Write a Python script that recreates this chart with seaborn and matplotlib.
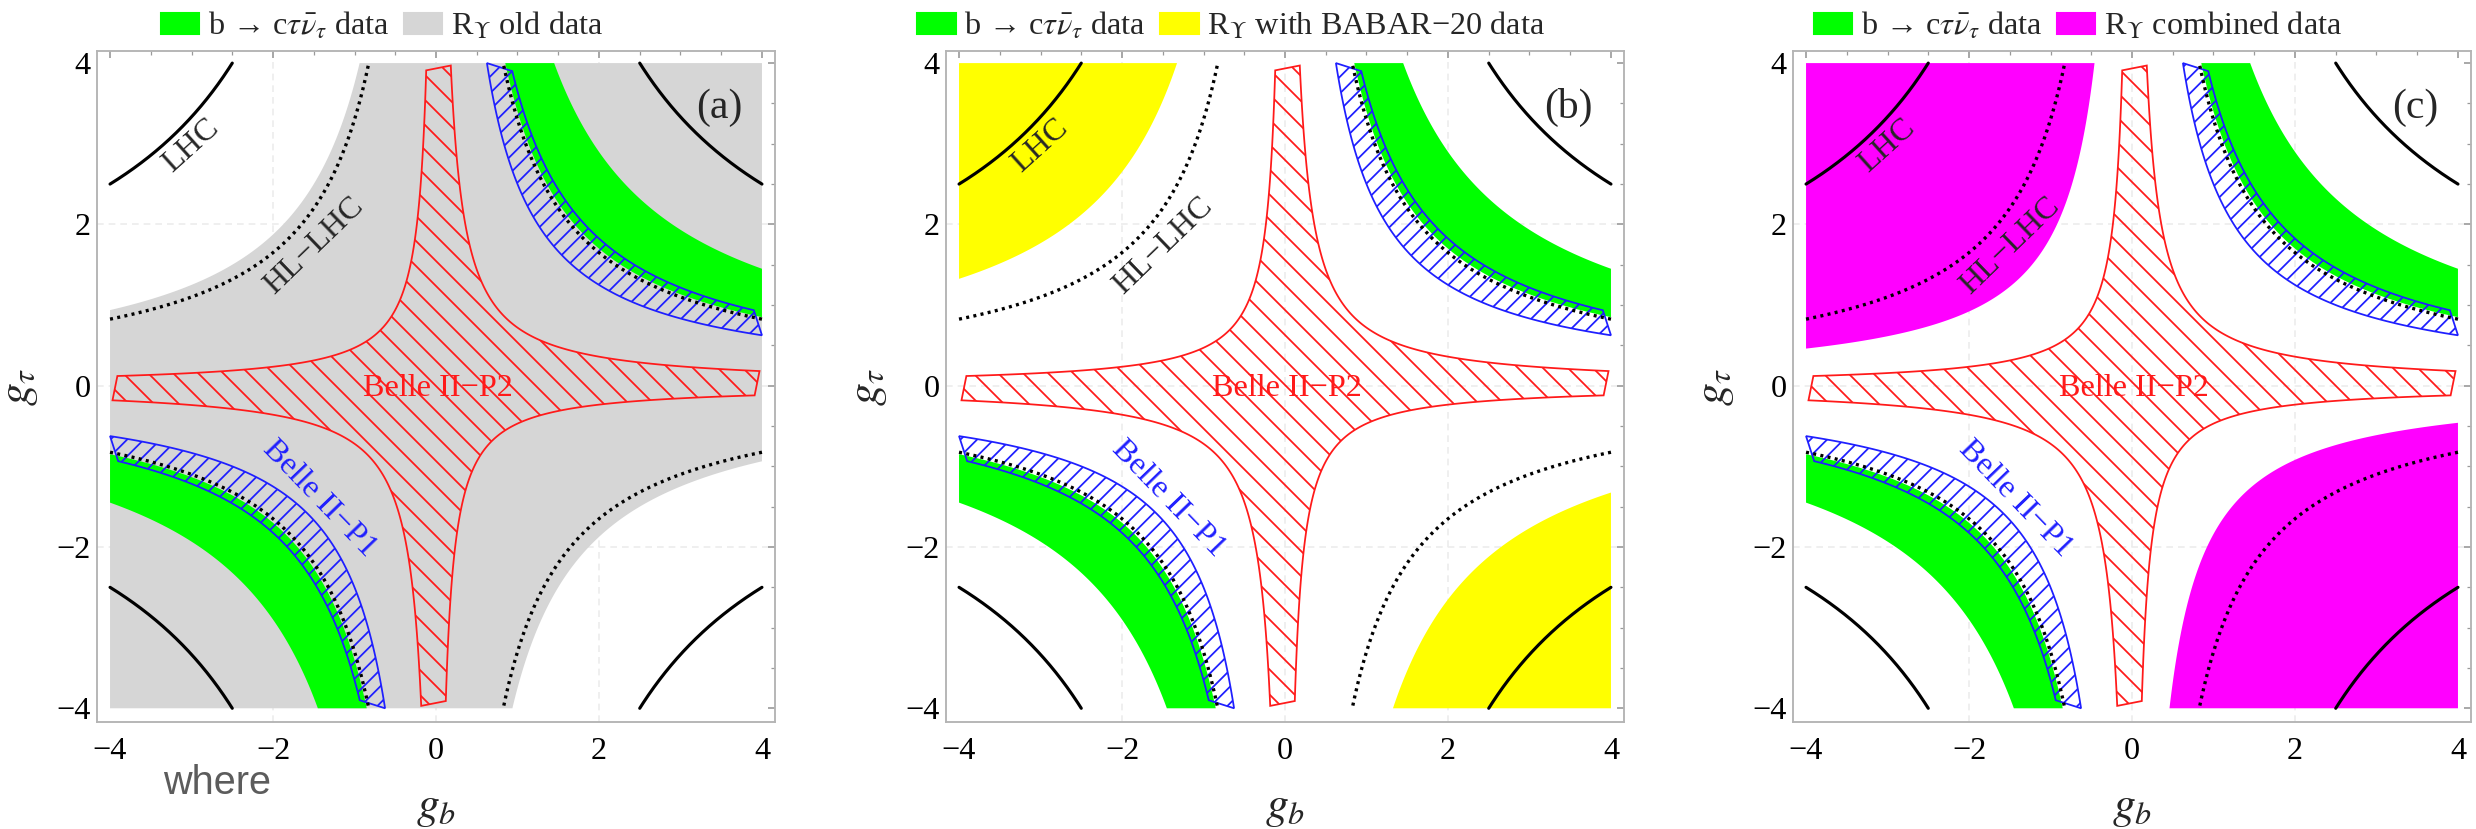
import numpy as np
import matplotlib
matplotlib.use('Agg')
import matplotlib.pyplot as plt
from matplotlib.patches import Patch
from matplotlib.ticker import MultipleLocator
import seaborn as sns

# contour levels of g_b * g_tau
lhc_level = 10.0
hl_lhc_level = 3.3
green_levels = [3.4, 5.8]          # b -> c tau nu data
belle_p1_levels = [2.5, 3.65]
belle_p2_levels = [-0.47, 0.72]
ry_levels = [-3.75, -5.3, -1.84]   # old / BABAR-20 / combined

panel_tags = ['(a)', '(b)', '(c)']
ry_labels = [r'R$_\Upsilon$ old data', r'R$_\Upsilon$ with BABAR−20 data', r'R$_\Upsilon$ combined data']
ry_colors = ['#d6d6d6', '#ffff00', '#ff00ff']
green = '#00ff00'
major_ticks = [-4, -2, 0, 2, 4]

sns.set_theme(style='white')
plt.rcParams['font.family'] = ['Liberation Serif', 'DejaVu Serif']
plt.rcParams['mathtext.fontset'] = 'stix'
plt.rcParams['hatch.linewidth'] = 0.85


def branch(c, x0, x1, n=300):
    # piece of the hyperbola g_b * g_tau = c between x0 and x1 (same sign)
    s = np.sign(x0)
    x = s * np.geomspace(abs(x0), abs(x1), n)
    return x, c / x


def band(c1, c2, s, lim_out):
    xi, yi = branch(c1, s * c1 / 4, s * 4)
    xo, yo = branch(c2, s * lim_out, s * c2 / lim_out)
    return np.concatenate([xi, xo]), np.concatenate([yi, yo])


def star(cn, cp):
    pieces = [branch(cn, cn / 3.91, -3.91), branch(cp, -3.97, -cp / 3.97),
              branch(cn, -cn / 3.91, 3.91), branch(cp, 3.97, cp / 3.97)]
    return np.concatenate([p[0] for p in pieces]), np.concatenate([p[1] for p in pieces])


def ry_region(ax, c, color, keep_above):
    tl = branch(c, -4, c / 4)
    br = branch(c, 4, -c / 4)
    if keep_above:
        xs = np.concatenate([tl[0], [4], br[0], [-4]])
        ys = np.concatenate([tl[1], [4], br[1], [-4]])
        ax.fill(xs, ys, color=color, lw=0, zorder=1)
    else:
        ax.fill(np.append(tl[0], -4), np.append(tl[1], 4), color=color, lw=0, zorder=1)
        ax.fill(np.append(br[0], 4), np.append(br[1], -4), color=color, lw=0, zorder=1)


W, H, DPI = 2476, 829, 150
fig = plt.figure(figsize=(W / DPI, H / DPI), dpi=DPI)
lefts = [97, 946, 1793]

for i in range(3):
    ax = fig.add_axes([lefts[i] / W, 1 - 722 / H, 678 / W, 671 / H])
    ax.set_xlim(-4.16, 4.16)
    ax.set_ylim(-4.17, 4.15)

    for g in [-2, 0, 2]:
        ax.axvline(g, color='#ececec', lw=0.8, ls=(0, (4, 3)), zorder=0)
        ax.axhline(g, color='#ececec', lw=0.8, ls=(0, (4, 3)), zorder=0)

    ry_region(ax, ry_levels[i], ry_colors[i], keep_above=(i == 0))

    for s in [1, -1]:
        gx, gy = band(green_levels[0], green_levels[1], s, 4)
        ax.fill(gx, gy, color=green, lw=0, zorder=2)
        bx, by = band(belle_p1_levels[0], belle_p1_levels[1], s, 3.9)
        ax.fill(bx, by, facecolor='none', edgecolor='#1f1fff', hatch='///', lw=0.85, zorder=3)

    rx, ry = star(*belle_p2_levels)
    ax.fill(rx, ry, facecolor='none', edgecolor='#ff1a1a', hatch='\\\\', lw=0.85, zorder=3)

    for sx, sy in [(-1, 1), (1, 1), (-1, -1), (1, -1)]:
        c = sx * sy * lhc_level
        x, y = branch(c, sx * 4, sx * lhc_level / 4)
        sns.lineplot(x=x, y=y, sort=False, estimator=None, color='black', lw=1.5, ax=ax, zorder=4)
        c = sx * sy * hl_lhc_level
        x, y = branch(c, sx * 4, sx * hl_lhc_level / 4)
        ax.plot(x, y, color='black', lw=1.6, ls=(0, (0.9, 1.3)), zorder=4)

    ax.text(-3.0, 2.97, 'LHC', rotation=42, ha='center', va='center', fontsize=15.5, zorder=5)
    ax.text(-1.5, 1.73, 'HL−LHC', rotation=44, ha='center', va='center', fontsize=15.5, zorder=5)
    ax.text(0.02, -0.03, 'Belle II−P2', color='#ff1a1a', ha='center', va='center', fontsize=15.5, zorder=5)
    ax.text(-1.43, -1.4, 'Belle II−P1', color='#1f1fff', rotation=-46, ha='center', va='center',
            fontsize=15.5, zorder=5)
    ax.text(3.48, 3.45, panel_tags[i], ha='center', va='center', fontsize=20, zorder=5)

    ax.set_xticks(major_ticks)
    ax.set_yticks(major_ticks)
    ax.xaxis.set_minor_locator(MultipleLocator(0.5))
    ax.yaxis.set_minor_locator(MultipleLocator(0.5))
    ax.tick_params(which='both', direction='in', top=True, right=True, color='#9a9a9a')
    ax.tick_params(which='major', length=3.5, width=0.8, labelsize=15.5, labelcolor='black')
    ax.tick_params(which='minor', length=2, width=0.6)
    ax.tick_params(axis='x', pad=7)
    ax.tick_params(axis='y', pad=3)
    for sp in ax.spines.values():
        sp.set_color('#b4b4b4')
        sp.set_linewidth(0.9)

    ax.set_xlabel(r'$g_b$', fontsize=22, labelpad=10)
    ax.set_ylabel(r'$g_\tau$', fontsize=22, labelpad=8)

    handles = [Patch(color=green), Patch(color=ry_colors[i])]
    labels = [r'b → c$\tau\bar{\nu}_\tau$ data', ry_labels[i]]
    ax.legend(handles, labels, loc='center', bbox_to_anchor=(0.42, 1.037), ncol=2, frameon=False,
              fontsize=15.5, handlelength=1.2, handleheight=0.6, handletextpad=0.25,
              columnspacing=0.45, borderaxespad=0)

fig.text(163 / W, 1 - 794 / H, 'where', family='Liberation Sans', fontsize=19, color='#5c5c5c',
         ha='left', va='baseline')

fig.savefig('out.png', dpi=DPI)
